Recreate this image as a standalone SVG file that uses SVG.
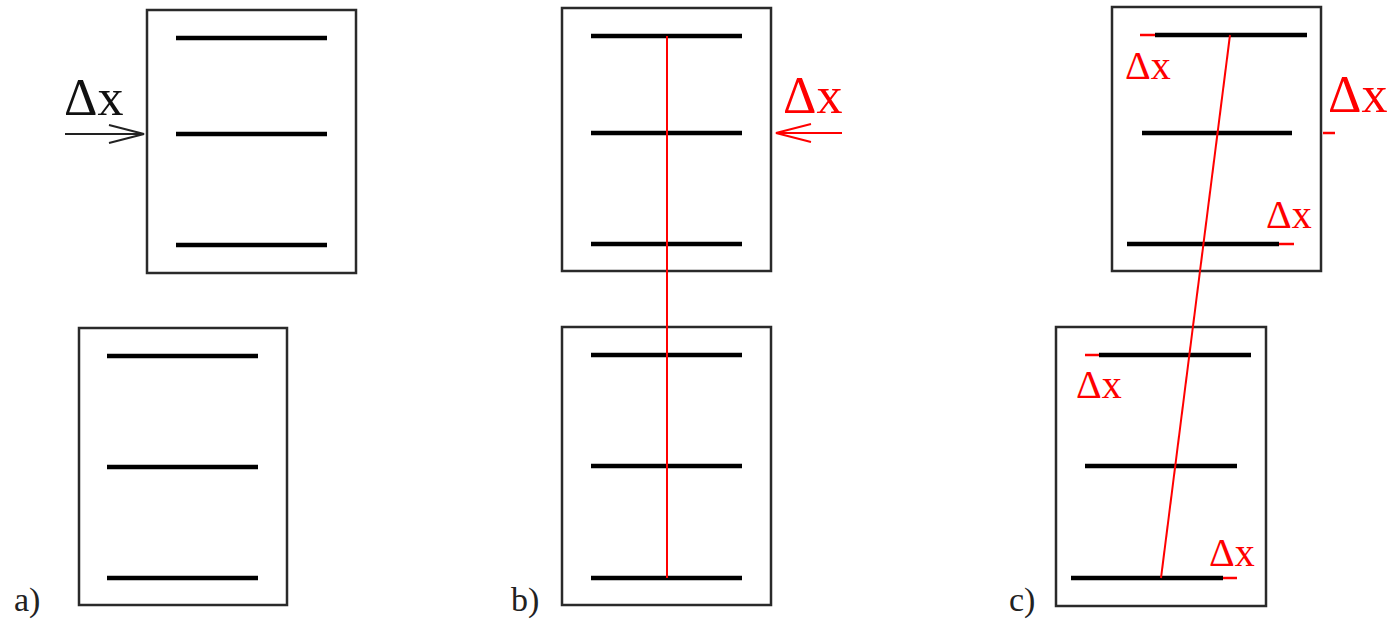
<svg xmlns="http://www.w3.org/2000/svg" width="1391" height="619" viewBox="0 0 1391 619">
<style>
.box{fill:none;stroke:#2a2a2a;stroke-width:2.5}
.bar{stroke:#000;stroke-width:4.5;fill:none}
.red{stroke:#ff0000;fill:none}
.lab{font-family:"Liberation Serif","DejaVu Serif",serif;font-size:34px;fill:#222}
.dx{font-family:"Liberation Serif","DejaVu Serif",serif}
</style>
<rect width="1391" height="619" fill="#fff"/>
<g id="panel-a">
<g id="a-top"><rect class="box" x="147" y="10" width="209" height="263"/>
<line class="bar" x1="176" y1="38" x2="327" y2="38"/><line class="bar" x1="176" y1="134" x2="327" y2="134"/><line class="bar" x1="176" y1="245" x2="327" y2="245"/></g>
<g id="a-bottom"><rect class="box" x="79" y="328" width="208" height="277"/>
<line class="bar" x1="107" y1="356" x2="258" y2="356"/><line class="bar" x1="107" y1="467" x2="258" y2="467"/><line class="bar" x1="107" y1="578" x2="258" y2="578"/></g>
<g id="a-arrow"><line x1="65" y1="134" x2="144" y2="134" stroke="#222" stroke-width="2"/><polyline points="109,125 144,134 109,143" fill="none" stroke="#222" stroke-width="2"/>
<text class="dx" x="64" y="115" font-size="52" fill="#111">Δx</text></g>
<text class="lab" x="14" y="611">a)</text>
</g>
<g id="panel-b">
<g id="b-top"><rect class="box" x="562" y="8" width="209" height="263"/>
<line class="bar" x1="591" y1="36" x2="742" y2="36"/><line class="bar" x1="591" y1="133" x2="742" y2="133"/><line class="bar" x1="591" y1="244" x2="742" y2="244"/></g>
<g id="b-bottom"><rect class="box" x="562" y="327" width="209" height="278"/>
<line class="bar" x1="591" y1="355" x2="742" y2="355"/><line class="bar" x1="591" y1="466" x2="742" y2="466"/><line class="bar" x1="591" y1="578" x2="742" y2="578"/></g>
<line class="red" x1="667" y1="36" x2="667" y2="578" stroke-width="2"/>
<g id="b-arrow"><line class="red" x1="776" y1="133" x2="842" y2="133" stroke-width="2"/><polyline class="red" points="811,124 776,133 811,142" stroke-width="2"/>
<text class="dx" x="783" y="113" font-size="52" fill="#ff0000">Δx</text></g>
<text class="lab" x="511" y="611">b)</text>
</g>
<g id="panel-c">
<g id="c-top"><rect class="box" x="1112" y="7" width="209" height="264"/>
<line class="red" x1="1140" y1="35" x2="1155" y2="35" stroke-width="2.5"/>
<line class="bar" x1="1155" y1="35" x2="1307" y2="35"/><line class="bar" x1="1142" y1="133" x2="1292" y2="133"/><line class="bar" x1="1127" y1="244" x2="1279" y2="244"/>
<line class="red" x1="1279" y1="244" x2="1294" y2="244" stroke-width="2.5"/>
<line class="red" x1="1323" y1="133" x2="1335" y2="133" stroke-width="2.5"/>
<text class="dx" x="1125" y="79" font-size="40" fill="#ff0000">Δx</text>
<text class="dx" x="1266" y="228" font-size="40" fill="#ff0000">Δx</text>
<text class="dx" x="1328" y="112" font-size="52" fill="#ff0000">Δx</text></g>
<g id="c-bottom"><rect class="box" x="1056" y="327" width="210" height="279"/>
<line class="red" x1="1085" y1="355" x2="1099" y2="355" stroke-width="2.5"/>
<line class="bar" x1="1099" y1="355" x2="1251" y2="355"/><line class="bar" x1="1085" y1="466" x2="1237" y2="466"/><line class="bar" x1="1071" y1="578" x2="1223" y2="578"/>
<line class="red" x1="1223" y1="578" x2="1237" y2="578" stroke-width="2.5"/>
<text class="dx" x="1076" y="398" font-size="40" fill="#ff0000">Δx</text>
<text class="dx" x="1209" y="566" font-size="40" fill="#ff0000">Δx</text></g>
<line class="red" x1="1230" y1="35" x2="1161" y2="578" stroke-width="2"/>
<text class="lab" x="1009" y="611">c)</text>
</g>
</svg>
